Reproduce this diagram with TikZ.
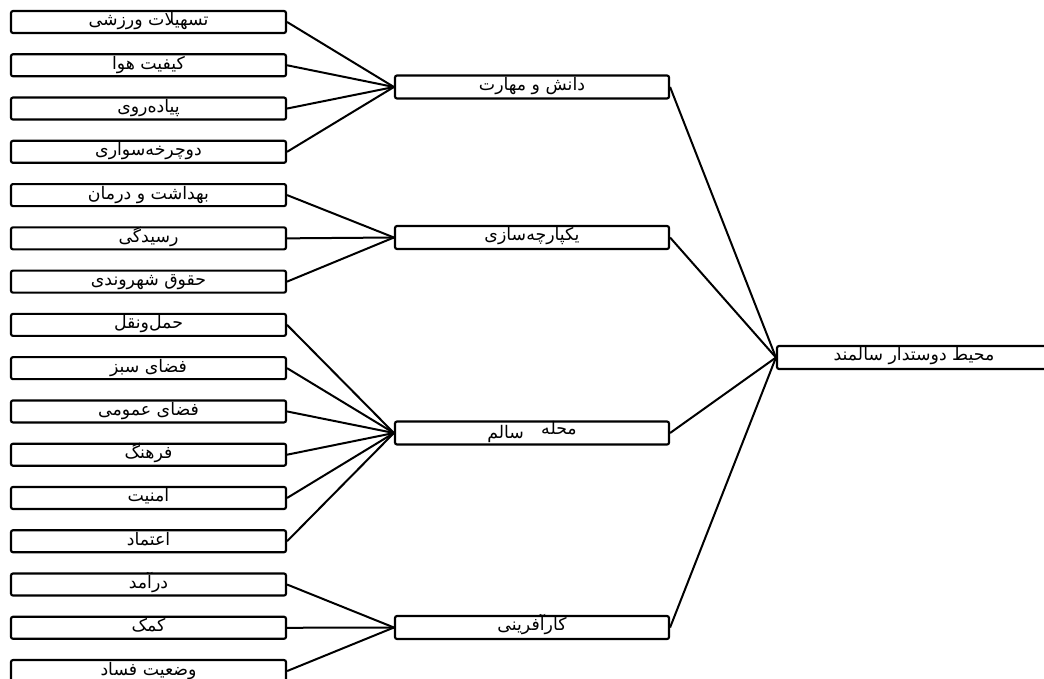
\documentclass[tikz,border=0pt]{standalone}
\usepackage{fontspec}
\newfontfamily\arabicfont[Script=Arabic]{DejaVu Sans}
\TeXXeTstate=1
\newcommand\fa[1]{{\arabicfont\beginR #1\endR}}
\begin{document}
\begin{tikzpicture}[x=0.75pt,y=-0.75pt,
  leafbox/.style={draw,line width=1.6pt,rounded corners=1.5pt,inner sep=0pt,minimum width=206.25pt,minimum height=16.5pt},
  midbox/.style={draw,line width=1.6pt,rounded corners=1.5pt,inner sep=0pt,minimum width=205.5pt,minimum height=17.25pt},
  txt/.style={anchor=base,inner sep=0pt,font=\fontsize{13}{14}\selectfont},
  link/.style={line width=1.5pt}]
\useasboundingbox (0,0) rectangle (1044,678);
\clip (0,0) rectangle (1044,678);
% middle and root
\node[midbox] (m1) at (532,87) {};
\node[midbox] (m2) at (532,237.5) {};
\node[midbox] (m3) at (532,433) {};
\node[midbox] (m4) at (532,627.5) {};
\node[midbox] (r) at (914,357.5) {};
\node[txt] (tm1) at (532,90) {\fa{دانش و مهارت}};
\node[txt] (tm2) at (532,240.5) {\fa{یکپارچه‌سازی}};
\node[txt] (tm3) at (532,434) {\fa{محله\quad\raisebox{-3pt}{سالم}}};
\node[txt] (tm4) at (532,630.5) {\fa{کارآفرینی}};
\node[txt] (tr) at (914,360.5) {\fa{محیط دوستدار سالمند}};
% leaves
\foreach \i/\t/\m in {0/تسهیلات ورزشی/m1, 1/کیفیت هوا/m1, 2/پیاده‌روی/m1, 3/دوچرخه‌سواری/m1,
  4/بهداشت و درمان/m2, 5/رسیدگی/m2, 6/حقوق شهروندی/m2,
  7/حمل‌ونقل/m3, 8/فضای سبز/m3, 9/فضای عمومی/m3, 10/فرهنگ/m3, 11/امنیت/m3, 12/اعتماد/m3,
  13/درآمد/m4, 14/کمک/m4, 15/وضعیت فساد/m4}{
  \node[leafbox] (l\i) at (148.5,{22+43.27*\i}) {};
  \node[txt] (tl\i) at (148.5,{26+43.27*\i}) {\fa{\t}};
  \draw[link] (l\i.east) -- (\m.west);
}
\foreach \m in {m1,m2,m3,m4}{
  \draw[link] (\m.east) -- (r.west);
}
\end{tikzpicture}
\end{document}
